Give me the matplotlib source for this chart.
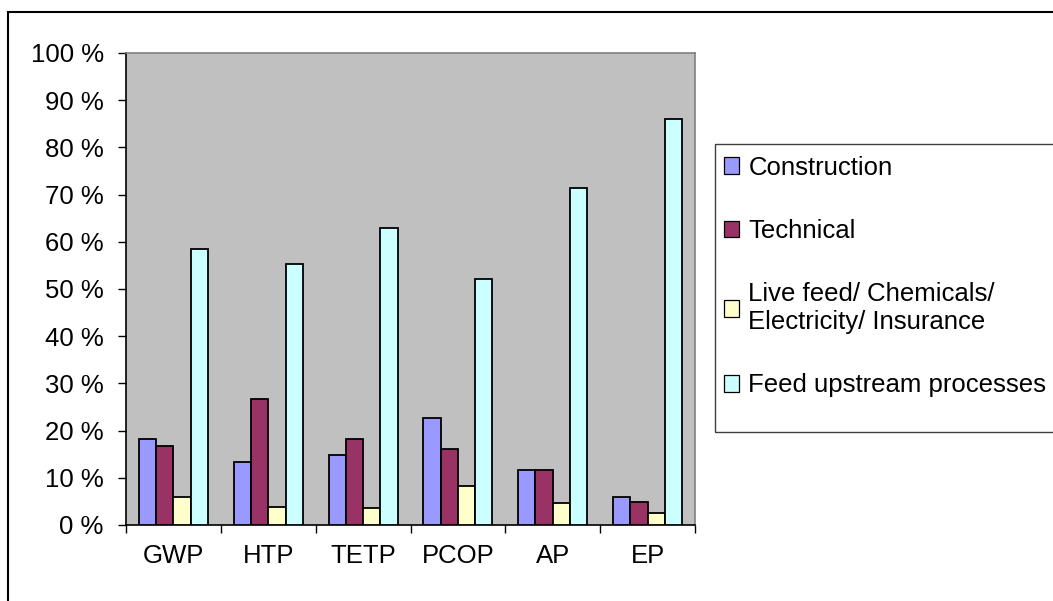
import matplotlib.pyplot as plt
import numpy as np
from matplotlib.patches import Rectangle, Patch

plt.rcParams['font.family'] = ['Liberation Sans', 'DejaVu Sans']

categories = ['GWP', 'HTP', 'TETP', 'PCOP', 'AP', 'EP']
series_names = ['Construction', 'Technical',
                'Live feed/ Chemicals/\nElectricity/ Insurance',
                'Feed upstream processes']
construction = [18.2, 13.4, 14.8, 22.6, 11.7, 5.9]
technical = [16.8, 26.7, 18.2, 16.1, 11.7, 4.9]
live_feed = [5.9, 3.9, 3.5, 8.3, 4.6, 2.6]
feed_upstream = [58.5, 55.4, 62.9, 52.1, 71.4, 86.0]
colors = ['#9999FF', '#993366', '#FFFFCC', '#CCFFFF']

W, H = 1053, 601
fig = plt.figure(figsize=(W / 100, H / 100), dpi=100)
fig.patch.set_facecolor('white')

# figure frame (runs off the right and bottom edges)
fig.add_artist(Rectangle((8 / W, -0.05), 1.1, 1 - 12 / H + 0.05,
                         transform=fig.transFigure, fill=False,
                         edgecolor='black', linewidth=1.5))

ax = fig.add_axes([126 / W, 1 - 525 / H, (695 - 126) / W, (525 - 53) / H])
ax.set_facecolor('#C0C0C0')

x = np.arange(len(categories))
bw = 0.182
all_series = [construction, technical, live_feed, feed_upstream]
for i, vals in enumerate(all_series):
    ax.bar(x + (i - 1.5) * bw, vals, bw, color=colors[i],
           edgecolor='black', linewidth=1.3, zorder=3)

fs = 18.5
ax.set_xlim(-0.5, len(categories) - 0.5)
ax.set_ylim(0, 100)
ax.set_yticks(range(0, 101, 10))
ax.set_yticklabels([f'{v} %' for v in range(0, 101, 10)], fontsize=fs)
ax.set_xticks(x)
ax.set_xticklabels(categories, fontsize=fs)
ax.set_xticks(np.arange(-0.5, len(categories)), minor=True)
ax.tick_params(axis='x', which='major', length=0, pad=14)
ax.tick_params(axis='x', which='minor', length=6, direction='out', width=1)
ax.tick_params(axis='y', length=6, direction='out', width=1, pad=10)

for side in ['top', 'right']:
    ax.spines[side].set_color('#808080')
    ax.spines[side].set_linewidth(1.2)
for side in ['left', 'bottom']:
    ax.spines[side].set_color('black')
    ax.spines[side].set_linewidth(1.2)

# legend box drawn separately so it can extend past the last entry
fig.add_artist(Rectangle((715 / W, 1 - 432 / H), 0.5, (432 - 144) / H,
                         transform=fig.transFigure, fill=False,
                         edgecolor='#404040', linewidth=1.0))

handles = [Patch(facecolor=c, edgecolor='black', linewidth=0.9) for c in colors]
leg = fig.legend(handles, series_names, loc='upper left',
                 bbox_to_anchor=(712 / W, 1 - 144 / H), fontsize=18.5,
                 frameon=False, handlelength=0.62, handleheight=0.62,
                 handletextpad=0.35, labelspacing=1.53, borderpad=0.45,
                 borderaxespad=0)

fig.savefig('out.png', dpi=100)
